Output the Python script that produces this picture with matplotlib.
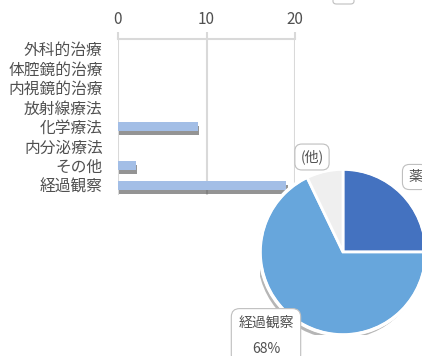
import matplotlib.pyplot as plt
import matplotlib.patheffects as pe
from matplotlib.patches import FancyBboxPatch, Circle

plt.rcParams['font.family'] = ['Noto Sans CJK JP', 'DejaVu Sans']

# 治療内容ごとの件数
categories = ['外科的治療', '体腔鏡的治療', '内視鏡的治療', '放射線療法',
              '化学療法', '内分泌療法', 'その他', '経過観察']
counts = [0, 0, 0, 0, 9, 0, 2, 19]
xticks = [0, 10, 20]

# 円グラフ (薬 / 経過観察 / 他)
pie_labels = ['薬', '経過観察', '(他)']
pie_values = [7, 19, 2]
pie_colors = ['#4472c0', '#67a6dc', '#efefef']

fig = plt.figure(figsize=(4.22, 3.56), dpi=100)
W, H = 422, 356

# ---- 横棒グラフ
ax = fig.add_axes([118 / W, 161 / H, 177 / W, 156 / H])
pos = list(range(len(categories)))
bars = ax.barh(pos, counts, height=0.46, color='#a3bee6', zorder=3)
for b in bars:
    if b.get_width() > 0:
        b.set_path_effects([pe.SimplePatchShadow(offset=(1, -3), shadow_rgbFace='#3c3c3c', alpha=0.55),
                            pe.Normal()])
ax.set_xlim(0, 20)
ax.set_ylim(7.5, -0.5)
ax.set_xticks(xticks)
ax.set_yticks(pos)
ax.set_yticklabels(categories)
ax.xaxis.tick_top()
ax.tick_params(axis='x', colors='#d9d9d9', labelcolor='#505050', labelsize=11,
               length=5, width=1.5, direction='out', pad=3)
ax.tick_params(axis='y', length=0, labelcolor='#505050', labelsize=11.3, pad=11)
for x in xticks:
    ax.axvline(x, color='#d9d9d9', lw=1.5, zorder=1)
for s in ['bottom', 'left', 'right']:
    ax.spines[s].set_visible(False)
ax.spines['top'].set_color('#d9d9d9')
ax.spines['top'].set_linewidth(1.5)

# ---- 円グラフ
r = 83
pax = fig.add_axes([(343 - r) / W, (104 - r) / H, 2 * r / W, 2 * r / H])
pax.add_patch(Circle((-0.03, -0.05), 1.0, fc='#303030', ec='none', alpha=0.35, zorder=0))
wedges, _ = pax.pie(pie_values, colors=pie_colors, startangle=90, counterclock=False,
                    wedgeprops=dict(edgecolor='white', linewidth=2, zorder=2))
pax.add_patch(Circle((0, 0), 1.0, fc='none', ec='white', lw=2.5, zorder=3))
pax.set_xlim(-1, 1)
pax.set_ylim(-1, 1)
pax.set_aspect('equal')

box = dict(boxstyle='round,pad=0.4,rounding_size=0.5', fc='white', ec='#bfbfbf', lw=0.8)
fig.text(312 / W, 1 - 157 / H, pie_labels[2], ha='center', va='center', fontsize=10,
         color='#505050', bbox=box)
fig.text(408 / W, 1 - 177 / H, pie_labels[0], ha='left', va='center', fontsize=10,
         color='#505050', bbox=box)
share = round(100 * pie_values[1] / sum(pie_values))
fig.text(266 / W, 1 - 336 / H, f'{pie_labels[1]}\n\n{share}%', ha='center', va='center',
         fontsize=10, color='#505050', linespacing=0.95,
         bbox=dict(boxstyle='round,pad=0.5,rounding_size=0.6', fc='white', ec='#bfbfbf', lw=0.8))

# 上端で切れている吹き出し
fig.patches.append(FancyBboxPatch((333 / W, 1 - 4 / H), 21 / W, 14 / H,
                                  boxstyle='round,pad=0,rounding_size=0.008',
                                  transform=fig.transFigure, fc='white', ec='#bfbfbf', lw=0.8))

fig.savefig('out.png', dpi=100)
